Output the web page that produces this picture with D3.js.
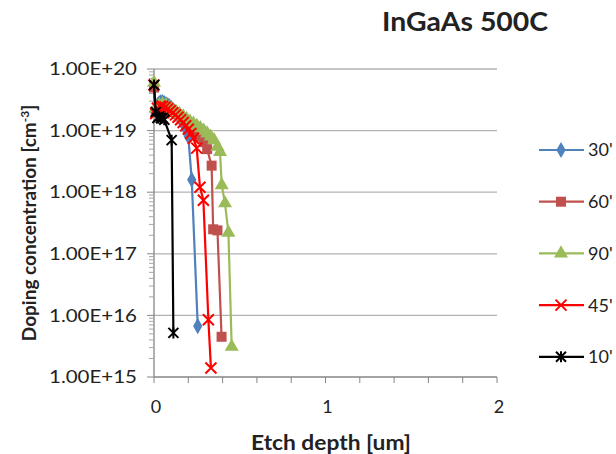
<!DOCTYPE html>
<html>
<head>
<meta charset="utf-8">
<script src="https://cdn.jsdelivr.net/npm/d3@7"></script>
<style>
  body { margin: 0; background: #fff; }
  text { font-family: Lato, "Open Sans", sans-serif; fill: #222; }
</style>
</head>
<body>
<div id="chart"></div>
<script>
// series names and data
const seriesNames = ["30'", "60'", "90'", "45'", "10'"];

const depth30 = [0, 0.01, 0.02, 0.03, 0.04, 0.05, 0.06, 0.07, 0.08, 0.09, 0.10, 0.11, 0.12, 0.13, 0.14, 0.15, 0.16, 0.17, 0.18, 0.19, 0.20, 0.22, 0.255];
const conc30 = [5.5e19, 2.2e19, 2.6e19, 2.8e19, 2.9e19, 2.9e19, 2.8e19, 2.7e19, 2.6e19, 2.5e19, 2.35e19, 2.2e19, 2.05e19, 1.9e19, 1.75e19, 1.6e19, 1.45e19, 1.3e19, 1.15e19, 1.0e19, 8e18, 1.6e18, 6.7e15];

const depth60 = [0, 0.01, 0.03, 0.05, 0.07, 0.09, 0.11, 0.13, 0.15, 0.17, 0.19, 0.21, 0.23, 0.25, 0.27, 0.29, 0.31, 0.336, 0.345, 0.37, 0.394];
const conc60 = [5e19, 2.0e19, 2.4e19, 2.5e19, 2.4e19, 2.2e19, 2.0e19, 1.85e19, 1.7e19, 1.55e19, 1.4e19, 1.25e19, 1.1e19, 9.5e18, 8e18, 6.5e18, 5e18, 2.7e18, 2.5e17, 2.4e17, 4.5e15];

const depth90 = [0, 0.01, 0.03, 0.05, 0.07, 0.09, 0.11, 0.13, 0.15, 0.17, 0.19, 0.21, 0.23, 0.25, 0.27, 0.29, 0.31, 0.33, 0.35, 0.37, 0.385, 0.395, 0.414, 0.434, 0.453];
const conc90 = [6e19, 2.3e19, 2.6e19, 2.7e19, 2.6e19, 2.4e19, 2.2e19, 2.0e19, 1.85e19, 1.7e19, 1.55e19, 1.4e19, 1.3e19, 1.2e19, 1.1e19, 1.0e19, 9e18, 8e18, 7e18, 5.5e18, 4.5e18, 1.3e18, 6.6e17, 2.2e17, 3.1e15];

const depth45 = [0, 0.01, 0.02, 0.035, 0.05, 0.065, 0.08, 0.095, 0.11, 0.125, 0.14, 0.155, 0.17, 0.185, 0.2, 0.215, 0.23, 0.249, 0.268, 0.288, 0.317, 0.332];
const conc45 = [5.5e19, 1.9e19, 2.3e19, 2.5e19, 2.5e19, 2.4e19, 2.25e19, 2.1e19, 1.95e19, 1.8e19, 1.65e19, 1.5e19, 1.35e19, 1.2e19, 1.05e19, 9e18, 7.5e18, 5.2e18, 1.2e18, 7.4e17, 8.5e15, 1.4e15];

const depth10 = [0, 0.01, 0.02, 0.03, 0.04, 0.05, 0.06, 0.103, 0.113];
const conc10 = [5.5e19, 2e19, 1.6e19, 1.7e19, 1.6e19, 1.6e19, 1.5e19, 7e18, 5.2e15];

const yTicks = [1e15, 1e16, 1e17, 1e18, 1e19, 1e20];
const xTicks = [0, 1, 2];

const depths = [depth30, depth60, depth90, depth45, depth10];
const concs = [conc30, conc60, conc90, conc45, conc10];
const colors = ['#4F81BD', '#C0504D', '#9BBB59', '#FF0000', '#000000'];
const shapes = ['diamond', 'square', 'triangle', 'x', 'star'];

const width = 616, height = 454;
const plot = { left: 154, right: 497, top: 69, bottom: 377 };

const svg = d3.select('#chart')
  .append('svg')
  .attr('width', width)
  .attr('height', height);

const x = d3.scaleLinear().domain([0, 2]).range([plot.left, plot.right]);
const y = d3.scaleLog().domain([1e15, 1e20]).range([plot.bottom, plot.top]);

// gridlines
svg.append('g')
  .selectAll('line')
  .data(yTicks.slice(1))
  .enter()
  .append('line')
  .attr('x1', plot.left)
  .attr('x2', plot.right)
  .attr('y1', d => y(d))
  .attr('y2', d => y(d))
  .attr('stroke', '#b3b3b3')
  .attr('stroke-width', 1.3);

// y axis with log minor ticks
const minorY = [];
for (let e = 15; e < 20; e++) {
  for (let m = 2; m <= 9; m++) minorY.push(m * Math.pow(10, e));
}
const yAxis = svg.append('g').attr('transform', `translate(${plot.left},0)`);
yAxis.append('line')
  .attr('y1', plot.top).attr('y2', plot.bottom)
  .attr('stroke', '#868686').attr('stroke-width', 1.3);
yAxis.selectAll('.major')
  .data(yTicks)
  .enter()
  .append('line')
  .attr('x1', -7).attr('x2', 0)
  .attr('y1', d => y(d)).attr('y2', d => y(d))
  .attr('stroke', '#868686');
yAxis.selectAll('.minor')
  .data(minorY)
  .enter()
  .append('line')
  .attr('x1', -5).attr('x2', 0)
  .attr('y1', d => y(d)).attr('y2', d => y(d))
  .attr('stroke', '#a6a6a6');
yAxis.selectAll('text')
  .data(yTicks)
  .enter()
  .append('text')
  .attr('x', -17)
  .attr('y', d => y(d))
  .attr('dy', '0.36em')
  .attr('text-anchor', 'end')
  .attr('font-size', 17)
  .attr('textLength', 88)
  .attr('lengthAdjust', 'spacingAndGlyphs')
  .text(d => '1.00E+' + Math.round(Math.log10(d)));

// x axis
const xAxis = svg.append('g').attr('transform', `translate(0,${plot.bottom})`);
xAxis.append('line')
  .attr('x1', plot.left).attr('x2', plot.right)
  .attr('stroke', '#868686').attr('stroke-width', 1.3);
xAxis.selectAll('.tick')
  .data(d3.range(0, 2.001, 0.2))
  .enter()
  .append('line')
  .attr('x1', d => x(d)).attr('x2', d => x(d))
  .attr('y1', 0).attr('y2', 6)
  .attr('stroke', '#868686');
xAxis.selectAll('text')
  .data(xTicks)
  .enter()
  .append('text')
  .attr('x', d => x(d) + 2)
  .attr('y', 36)
  .attr('text-anchor', 'middle')
  .attr('font-size', 18)
  .text(d => d);

// titles
svg.append('text')
  .attr('x', 465).attr('y', 31)
  .attr('text-anchor', 'middle')
  .attr('font-size', 26).attr('font-weight', 'bold')
  .attr('textLength', 166)
  .attr('lengthAdjust', 'spacingAndGlyphs')
  .text('InGaAs 500C');

svg.append('text')
  .attr('x', 331).attr('y', 450)
  .attr('text-anchor', 'middle')
  .attr('font-size', 20).attr('font-weight', 'bold')
  .attr('textLength', 160)
  .attr('lengthAdjust', 'spacingAndGlyphs')
  .text('Etch depth [um]');

const yl = svg.append('text')
  .attr('transform', 'translate(36,223) rotate(-90)')
  .attr('text-anchor', 'middle')
  .attr('font-size', 19).attr('font-weight', 'bold');
yl.append('tspan').text('Doping concentration [cm');
yl.append('tspan').attr('dy', -7).attr('font-size', 12).text('-3');
yl.append('tspan').attr('dy', 7).text(']');

// marker drawing
function marker(sel, shape, color) {
  if (shape === 'diamond') {
    sel.append('path').attr('d', d3.symbol(d3.symbolDiamond, 75)()).attr('fill', color);
  } else if (shape === 'square') {
    sel.append('path').attr('d', d3.symbol(d3.symbolSquare, 100)()).attr('fill', color);
  } else if (shape === 'triangle') {
    sel.append('path').attr('d', d3.symbol(d3.symbolTriangle, 85)()).attr('fill', color);
  } else if (shape === 'x') {
    sel.append('path').attr('d', 'M-5.5,-5.5L5.5,5.5M-5.5,5.5L5.5,-5.5')
      .attr('stroke', color).attr('stroke-width', 2).attr('fill', 'none');
  } else {
    sel.append('path').attr('d', 'M-5,-5L5,5M-5,5L5,-5M0,-5.5L0,5.5')
      .attr('stroke', color).attr('stroke-width', 2).attr('fill', 'none');
  }
}

const line = d3.line().x(d => x(d[0])).y(d => y(d[1]));

seriesNames.forEach((name, i) => {
  const pts = depths[i].map((d, j) => [d, concs[i][j]]);
  const g = svg.append('g');
  g.append('path')
    .attr('d', line(pts))
    .attr('fill', 'none')
    .attr('stroke', colors[i])
    .attr('stroke-width', 2.2);
  g.selectAll('.pt')
    .data(pts)
    .enter()
    .append('g')
    .attr('transform', d => `translate(${x(d[0])},${y(d[1])})`)
    .each(function () { marker(d3.select(this), shapes[i], colors[i]); });
});

// legend
const legend = svg.append('g');
seriesNames.forEach((name, i) => {
  const ly = 150 + i * 51.7;
  const item = legend.append('g');
  item.append('line')
    .attr('x1', 539).attr('x2', 584)
    .attr('y1', ly).attr('y2', ly)
    .attr('stroke', colors[i]).attr('stroke-width', 2.2);
  const m = item.append('g').attr('transform', `translate(561,${ly})`);
  marker(m, shapes[i], colors[i]);
  item.append('text')
    .attr('x', 588).attr('y', ly)
    .attr('dy', '0.36em')
    .attr('font-size', 18)
    .text(name);
});
</script>
</body>
</html>
